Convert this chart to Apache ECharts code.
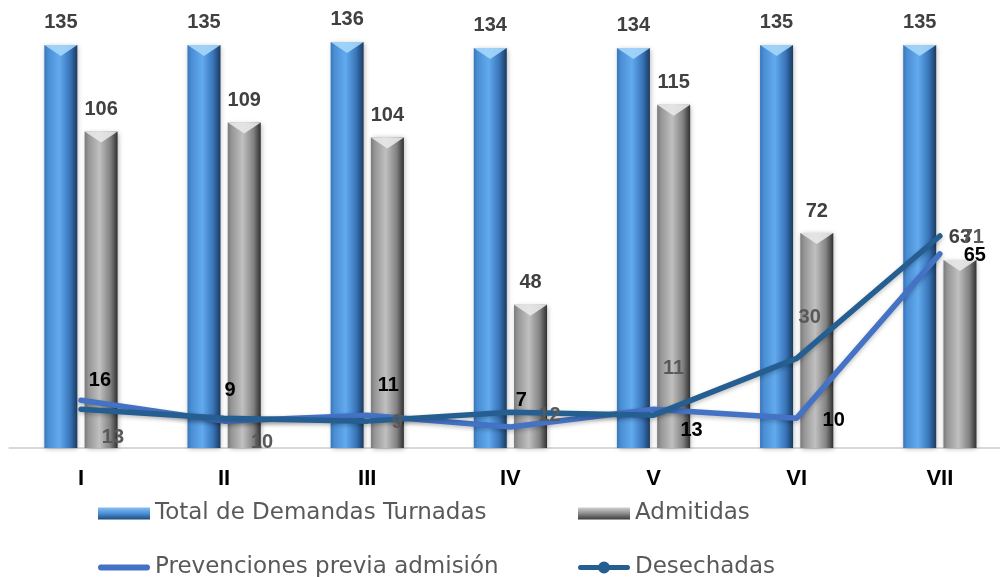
<!DOCTYPE html>
<html><head><meta charset="utf-8">
<script src="https://cdn.jsdelivr.net/npm/echarts@6/dist/echarts.min.js"></script>
<style>html,body{margin:0;padding:0;background:#fff;overflow:hidden;width:1000px;height:577px}#c{width:1012px;height:577px}</style>
</head><body><div id="c"></div>
<script>
// ---- data ----
const categories = ['I', 'II', 'III', 'IV', 'V', 'VI', 'VII'];
const totalTurnadas = [135, 135, 136, 134, 134, 135, 135];
const admitidas = [106, 109, 104, 48, 115, 72, 63];
const prevenciones = [16, 9, 11, 7, 13, 10, 65];
const desechadas = [13, 10, 9, 12, 11, 30, 71];
const seriesNames = ['Total de Demandas Turnadas', 'Admitidas', 'Prevenciones previa admisión', 'Desechadas'];

// ---- label styling (offsets in px from each point) ----
const prevLabelOffsets = [[19, -20], [6, -31], [21, -30], [11, -27], [38, 21], [37, 2], [35, 2]];
const desLabelOffsets = [[32, 28], [38, 24], [30, 1], [39, 3], [20, -47], [13, -41], [33, 1]];

const FONT = 'Liberation Sans';
const BAR_W = 33, BAR_GAP = '22%';

const blueGrad = new echarts.graphic.LinearGradient(0, 0, 1, 0, [
  {offset: 0, color: '#3a76ba'}, {offset: 0.12, color: '#4a8ed4'},
  {offset: 0.45, color: '#62aaee'}, {offset: 0.78, color: '#3874b8'},
  {offset: 1, color: '#1b3a5e'}
]);
const grayGrad = new echarts.graphic.LinearGradient(0, 0, 1, 0, [
  {offset: 0, color: '#7a7a7a'}, {offset: 0.12, color: '#969696'},
  {offset: 0.45, color: '#c0c0c0'}, {offset: 0.78, color: '#828282'},
  {offset: 1, color: '#303030'}
]);
const blueLegend = new echarts.graphic.LinearGradient(0, 0, 0, 1, [
  {offset: 0, color: '#86c0f0'}, {offset: 0.5, color: '#4b8fd6'}, {offset: 1, color: '#1e4b7d'}
]);
const grayLegend = new echarts.graphic.LinearGradient(0, 0, 0, 1, [
  {offset: 0, color: '#d0d0d0'}, {offset: 0.5, color: '#8c8c8c'}, {offset: 1, color: '#3c3c3c'}
]);

const barLabel = {
  show: true, position: 'top', distance: 12,
  fontFamily: FONT, fontWeight: 'bold', fontSize: 20, color: '#404040'
};
function lineLabel(color) {
  return {show: true, position: 'inside', fontFamily: FONT, fontWeight: 'bold', fontSize: 20, color: color};
}

const legendText = {fontFamily: 'DejaVu Sans', fontSize: 23, color: '#595959'};
const linePathIcon = 'path://M3,3 H49 A3,3 0 0 1 49,9 H3 A3,3 0 0 1 3,3 Z';
const markerPathIcon = 'path://M2.5,3.5 H49.5 A2.5,2.5 0 0 1 49.5,8.5 H2.5 A2.5,2.5 0 0 1 2.5,3.5 Z M20,6 A6,6 0 1 1 32,6 A6,6 0 1 1 20,6 Z';
function legendOf(name, left, top, extra) {
  return Object.assign({
    left: left, top: top, padding: 0, itemWidth: 52, itemHeight: 12, itemGap: 0,
    selectedMode: false, textStyle: legendText, data: [name]
  }, extra || {});
}

const chart = echarts.init(document.getElementById('c'), null, {renderer: 'canvas'});
chart.setOption({
  animation: false,
  backgroundColor: '#ffffff',
  grid: {left: 9.4, top: 30, width: 1002, height: 418, containLabel: false},
  xAxis: {
    type: 'category', data: categories,
    axisLine: {show: true, lineStyle: {color: '#d9d9d9', width: 2}},
    axisTick: {show: false},
    axisLabel: {fontFamily: FONT, fontWeight: 'bold', fontSize: 22, color: '#000', margin: 20},
    splitLine: {show: false}
  },
  yAxis: {type: 'value', min: 0, max: 140, show: false, splitLine: {show: false}},
  legend: [
    legendOf(seriesNames[0], 98, 502, {data: [{name: seriesNames[0], icon: 'rect', itemStyle: {color: blueLegend}}]}),
    legendOf(seriesNames[1], 578, 502, {data: [{name: seriesNames[1], icon: 'rect', itemStyle: {color: grayLegend}}]}),
    legendOf(seriesNames[2], 98, 556, {data: [{name: seriesNames[2], icon: linePathIcon, itemStyle: {color: '#4472c4'}}]}),
    legendOf(seriesNames[3], 578, 556, {data: [{name: seriesNames[3], icon: markerPathIcon, itemStyle: {color: '#255e91'}}]})
  ],
  series: [
    {
      name: seriesNames[0], type: 'bar', data: totalTurnadas, barWidth: BAR_W, barGap: BAR_GAP,
      itemStyle: {color: blueGrad, shadowBlur: 5, shadowColor: 'rgba(0,0,0,0.3)', shadowOffsetX: 1, shadowOffsetY: 1},
      label: barLabel, z: 2
    },
    {
      name: seriesNames[1], type: 'bar', data: admitidas, barWidth: BAR_W, barGap: BAR_GAP,
      itemStyle: {color: grayGrad, shadowBlur: 5, shadowColor: 'rgba(0,0,0,0.3)', shadowOffsetX: 1, shadowOffsetY: 1},
      label: barLabel, z: 2
    },
    {
      name: 'bevelTotal', type: 'pictorialBar', data: totalTurnadas, barWidth: BAR_W, barGap: BAR_GAP,
      symbol: 'path://M0,0 L33,0 L16.5,11 Z', symbolSize: [BAR_W, 11], symbolPosition: 'end',
      itemStyle: {color: 'rgba(165,215,250,0.9)'}, silent: true, z: 3
    },
    {
      name: 'bevelAdm', type: 'pictorialBar', data: admitidas, barWidth: BAR_W, barGap: BAR_GAP,
      symbol: 'path://M0,0 L33,0 L16.5,11 Z', symbolSize: [BAR_W, 11], symbolPosition: 'end',
      itemStyle: {color: 'rgba(232,232,232,0.9)'}, silent: true, z: 3
    },
    {
      name: seriesNames[2], type: 'line',
      data: prevenciones.map((v, i) => ({value: v, label: {offset: prevLabelOffsets[i]}})),
      symbol: 'circle', symbolSize: 1, showSymbol: true,
      lineStyle: {color: '#4472c4', width: 5.5, cap: 'round', shadowBlur: 4, shadowColor: 'rgba(0,0,0,0.25)', shadowOffsetY: 2},
      itemStyle: {color: '#4472c4'},
      label: lineLabel('#000000'), z: 5
    },
    {
      name: seriesNames[3], type: 'line',
      data: desechadas.map((v, i) => ({value: v, label: {offset: desLabelOffsets[i]}})),
      symbol: 'circle', symbolSize: 1, showSymbol: true,
      lineStyle: {color: '#255e91', width: 5.5, cap: 'round', shadowBlur: 4, shadowColor: 'rgba(0,0,0,0.25)', shadowOffsetY: 2},
      itemStyle: {color: '#255e91'},
      label: lineLabel('#595959'), z: 6
    }
  ]
});
</script>
</body></html>
